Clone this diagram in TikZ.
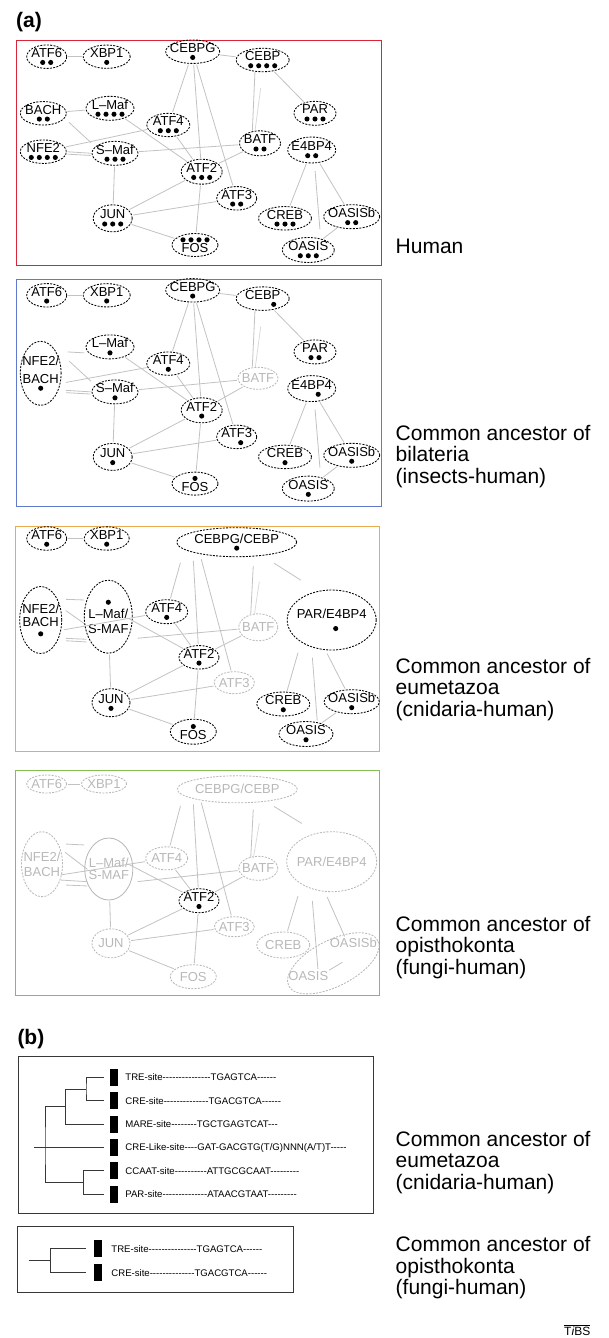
\documentclass[tikz,border=0pt]{standalone}
\usepackage{fontspec}
\newfontfamily\figsans{Liberation Sans}
\usetikzlibrary{shapes.geometric,positioning}
\definecolor{linkgray}{gray}{0.76}
\definecolor{offgray}{gray}{0.72}
\definecolor{humanred}{RGB}{216,38,56}
\definecolor{bilatblue}{RGB}{96,122,206}
\definecolor{eumetorange}{RGB}{234,170,78}
\definecolor{opistgreen}{RGB}{134,190,86}
\definecolor{treegray}{gray}{0.22}
% row of binding-site dots under a factor name
\newcommand\spots[1]{\tikz[baseline=0pt]{\foreach \dotidx in {1,...,#1}{\fill[black] (\dotidx*8pt,0pt) circle (2.55pt);}}}

\begin{document}
\begin{tikzpicture}[x=1pt,y=-1pt,font=\figsans,
  tf/.style={ellipse,draw,dash pattern=on 2pt off 1.3pt,line width=0.85pt,
    inner xsep=-4pt,inner ysep=0pt,align=center,font=\figsans\fontsize{13}{13.5}\selectfont},
  faded/.style={draw=offgray,text=offgray},
  wh/.style 2 args={minimum width=#1pt,minimum height=#2pt},
  reln/.style={draw=linkgray,line width=0.8pt,shorten <=1pt,shorten >=1pt},
  faintreln/.style={draw=linkgray!60,line width=0.8pt},
  panelbox/.style={line width=1pt},
  sidelabel/.style={anchor=north west,align=left,inner sep=0pt,font=\figsans\fontsize{21}{21.5}\selectfont},
  sitebar/.style={fill=black,minimum width=8pt,minimum height=17pt,inner sep=0pt},
  sitetext/.style={inner sep=0pt,text height=6.9pt,text depth=0pt,font=\figsans\fontsize{9.6}{11}\selectfont},
  treeline/.style={treegray,line width=0.8pt}]
\useasboundingbox (0,0) rectangle (608,1338);

\node[anchor=base west,inner sep=0pt,font=\figsans\bfseries\fontsize{21}{24}\selectfont] (parta) at (16,27.5) {(a)};

% human
\draw[panelbox,humanred] (16.5,40.7) rectangle (381.5,265.7);
\node[tf,wh={40}{22}] (hATF6) at (46.7,56.7) {ATF6\\[-8.5pt]\spots{2}};
\node[tf,wh={47}{22}] (hXBP1) at (106.7,56.7) {XBP1\\[-8.5pt]\spots{1}};
\node[tf,wh={54}{20}] (hCEBPG) at (192.7,51.7) {CEBPG\\[-8.5pt]\spots{1}};
\node[tf,wh={53}{21}] (hCEBP) at (262.7,60) {CEBP\\[-8.5pt]\spots{4}};
\node[tf,wh={46}{22}] (hBACH) at (43.3,113.3) {BACH\\[-8.5pt]\spots{2}};
\node[tf,wh={48}{20}] (hLMaf) at (110,108.3) {L–Maf\\[-8.5pt]\spots{4}};
\node[tf,wh={43}{20}] (hATF4) at (168.3,125) {ATF4\\[-8.5pt]\spots{3}};
\node[tf,wh={42}{24}] (hPAR) at (315,113.3) {PAR\\[-8.5pt]\spots{3}};
\node[tf,wh={41}{25}] (hBATF) at (260,143.3) {BATF\\[-8.5pt]\spots{2}};
\node[tf,wh={48}{26}] (hE4BP4) at (311.7,150) {E4BP4\\[-8.5pt]\spots{2}};
\node[tf,wh={46}{23}] (hNFE2) at (43.3,151.7) {NFE2\\[-8.5pt]\spots{4}};
\node[tf,wh={46}{21}] (hSMaf) at (115,153.3) {S–Maf\\[-8.5pt]\spots{3}};
\node[tf,wh={41}{25}] (hATF2) at (201.7,171.7) {ATF2\\[-8.5pt]\spots{3}};
\node[tf,wh={40}{20}] (hATF3) at (236.7,198.3) {ATF3\\[-8.5pt]\spots{2}};
\node[tf,wh={39}{27}] (hJUN) at (112.7,218.3) {JUN\\[-8.5pt]\spots{3}};
\node[tf,wh={53}{23}] (hCREB) at (285,218.3) {CREB\\[-8.5pt]\spots{3}};
\node[tf,wh={56}{20}] (hOASISb) at (351.7,216.7) {OASISb\\[-8.5pt]\spots{2}};
\node[tf,wh={46}{23}] (hFOS) at (195,245) {\spots{4}\\[-0.7pt]FOS};
\node[tf,wh={52}{25}] (hOASIS) at (308.3,250) {OASIS\\[-8.5pt]\spots{3}};
\path[reln] (hATF6) edge (hXBP1) (hCEBPG) edge (hCEBP)
  (hCEBPG) edge (hATF4) (hCEBPG) edge (hATF2) (hCEBPG) edge (hATF3)
  ([shift={(-7.7,11)}]hCEBP.center) edge ([shift={(-7.7,-11.6)}]hBATF.center)
  (hCEBP) edge (hPAR) (hBACH) edge (hLMaf)
  ([shift={(25,8.4)}]hBACH.center) edge ([shift={(-23.3,-10)}]hSMaf.center)
  (hLMaf) edge (hATF2) (hNFE2) edge (hATF4)
  (hNFE2.east) edge (hSMaf.west)
  ([yshift=-2.4pt]hNFE2.east) edge ([yshift=-2.2pt]hSMaf.west)
  (hSMaf) edge (hBATF) (hATF4) edge (hATF2) (hBATF) edge (hATF2)
  (hSMaf) edge (hJUN) (hATF2) edge (hJUN) (hATF2) edge (hFOS)
  (hJUN) edge (hATF3) (hJUN) edge (hFOS) (hE4BP4) edge (hCREB)
  ([shift={(3.3,20)}]hE4BP4.center) edge ([shift={(11.7,-20)}]hOASIS.center)
  (hE4BP4) edge (hOASISb) (hOASIS) edge (hOASISb);
\coordinate (hBfaint) at (260.7,88);
\draw[faintreln] (hBfaint) -- ([shift={(-5,-12.3)}]hBATF.center);
\node[sidelabel,anchor=base west] (lhuman) at (395.5,253.5) {Human};

% bilateria
\begin{scope}[yshift=-238.6pt]
\draw[panelbox,bilatblue] (16,40.7) rectangle (381,267.4);
\node[tf,wh={40}{22}] (bATF6) at (46.7,56.7) {ATF6\\[-8.5pt]\spots{1}};
\node[tf,wh={47}{22}] (bXBP1) at (106.7,56.7) {XBP1\\[-8.5pt]\spots{1}};
\node[tf,wh={54}{20}] (bCEBPG) at (192.7,51.7) {CEBPG\\[-8.5pt]\spots{1}};
\node[tf,wh={53}{21}] (bCEBP) at (262.7,60) {CEBP\\[-8.5pt]\hbox to 22pt{}\spots{1}};
\node[tf,wh={40}{64}] (bNB) at (40.7,134.7) {NFE2/\\[4.5pt]BACH\\[-8.5pt]\spots{1}};
\node[tf,wh={48}{20}] (bLMaf) at (110,108.3) {L–Maf\\[-8.5pt]\spots{1}};
\node[tf,wh={43}{20}] (bATF4) at (168.3,125) {ATF4\\[-8.5pt]\spots{1}};
\node[tf,wh={42}{24}] (bPAR) at (315,113.3) {PAR\\[-8.5pt]\spots{2}};
\node[tf,faded,wh={40}{22}] (bBATF) at (258,139.7) {BATF};
\node[tf,wh={48}{26}] (bE4BP4) at (311.7,150) {E4BP4\\[-8.5pt]\hbox to 13pt{}\spots{1}};
\node[tf,wh={46}{21}] (bSMaf) at (115,153.3) {S–Maf\\[-8.5pt]\spots{1}};
\node[tf,wh={41}{25}] (bATF2) at (201.7,171.7) {ATF2\\[-8.5pt]\spots{1}};
\node[tf,wh={40}{20}] (bATF3) at (236.7,198.3) {ATF3\\[-8.5pt]\hbox to 8pt{}\spots{1}};
\node[tf,wh={39}{27}] (bJUN) at (112.7,218.3) {JUN\\[-8.5pt]\spots{1}};
\node[tf,wh={53}{23}] (bCREB) at (285,218.3) {CREB\\[-8.5pt]\spots{1}};
\node[tf,wh={56}{20}] (bOASISb) at (351.7,216.7) {OASISb\\[-8.5pt]\spots{1}};
\node[tf,wh={46}{23}] (bFOS) at (195,245) {\spots{1}\\[-0.7pt]FOS};
\node[tf,wh={52}{25}] (bOASIS) at (308.3,250) {OASIS\\[-8.5pt]\spots{1}};
\path[reln] (bATF6) edge (bXBP1) (bCEBPG) edge (bCEBP)
  (bCEBPG) edge (bATF4) (bCEBPG) edge (bATF2) (bCEBPG) edge (bATF3)
  ([shift={(-7.7,11)}]bCEBP.center) edge ([shift={(-5.7,-11)}]bBATF.center)
  (bCEBP) edge (bPAR)
  ([shift={(26,-21.4)}]bNB.center) edge ([shift={(-25,6)}]bLMaf.center)
  ([shift={(27.6,-13)}]bNB.center) edge ([shift={(-23.3,-10)}]bSMaf.center)
  ([shift={(24.3,9.3)}]bNB.center) edge (bATF4)
  ([shift={(24.3,17)}]bNB.center) edge (bSMaf.west)
  ([shift={(24.3,19.3)}]bNB.center) edge ([yshift=-2.2pt]bSMaf.west)
  (bLMaf) edge (bATF2) (bSMaf) edge (bBATF) (bATF4) edge (bATF2)
  (bBATF) edge (bATF2) (bSMaf) edge (bJUN) (bATF2) edge (bJUN)
  (bATF2) edge (bFOS) (bJUN) edge (bATF3) (bJUN) edge (bFOS)
  (bE4BP4) edge (bCREB)
  ([shift={(3.3,20)}]bE4BP4.center) edge ([shift={(11.7,-20)}]bOASIS.center)
  (bE4BP4) edge (bOASISb) (bOASIS) edge (bOASISb);
\coordinate (bBfaint) at (260.7,88);
\draw[faintreln] (bBfaint) -- ([shift={(-2.7,-11)}]bBATF.center);
\end{scope}
\node[sidelabel] (lbilat) at (395.5,424.7) {Common ancestor of\\bilateria\\(insects-human)};

% eumetazoa
\begin{scope}[yshift=-486pt]
\draw[panelbox,eumetorange] (15.5,40.7) rectangle (379.5,265.7);
\node[tf,wh={40}{23}] (eATF6) at (46.7,52.5) {ATF6\\[-8.5pt]\spots{1}};
\node[tf,wh={45}{23}] (eXBP1) at (106.7,52.5) {XBP1\\[-8.5pt]\spots{1}};
\node[tf,wh={120}{29}] (eCC) at (236.7,56.2) {CEBPG/CEBP\\[-8.5pt]\spots{1}};
\node[tf,wh={42}{67}] (eNB) at (40.7,134) {NFE2/\\[-0.2pt]BACH\\[-6pt]\spots{1}};
\node[tf,wh={48}{73}] (eLS) at (108.3,130.7) {\spots{1}\\[3pt]L–Maf/\\[1.3pt]S-MAF};
\node[tf,wh={42}{24}] (eATF4) at (166.7,125.7) {ATF4\\[-8.5pt]\spots{1}};
\node[tf,faded,wh={39}{27}] (eBATF) at (258.3,141.3) {BATF};
\node[tf,wh={89}{60}] (ePE) at (331.7,134) {PAR/E4BP4\\[-3.3pt]\hbox to 8pt{}\spots{1}};
\node[tf,wh={40}{23}] (eATF2) at (199,171.3) {ATF2\\[-8.5pt]\spots{1}};
\node[tf,faded,wh={40}{22}] (eATF3) at (234.3,196.7) {ATF3};
\node[tf,wh={38}{28}] (eJUN) at (111,216.7) {JUN\\[-8.5pt]\spots{1}};
\node[tf,wh={53}{24}] (eCREB) at (283.3,218) {CREB\\[-8.5pt]\spots{1}};
\node[tf,wh={54}{22}] (eOASISb) at (351.7,215.7) {OASISb\\[-8.5pt]\spots{1}};
\node[tf,wh={46}{25}] (eFOS) at (193.3,245.7) {\spots{1}\\[-0.7pt]FOS};
\node[tf,wh={54}{25}] (eOASIS) at (306,248) {OASIS\\[-8.5pt]\spots{1}};
\path[reln] (eATF6) edge (eXBP1)
  ([shift={(-56,19.5)}]eCC.center) edge (eATF4)
  ([shift={(-43.4,17.8)}]eCC.center) edge (eATF2)
  ([shift={(-35.7,16.1)}]eCC.center) edge (eATF3)
  ([shift={(16.6,22.8)}]eCC.center) edge ([shift={(-7.6,-12.3)}]eBATF.center)
  ([shift={(36.6,20.5)}]eCC.center) edge ([shift={(-30,-39.3)}]ePE.center)
  ([shift={(24.3,-20.7)}]eNB.center) edge ([shift={(-23.3,-16.7)}]eLS.center)
  ([shift={(24.3,-10)}]eNB.center) edge ([shift={(-23.5,7.3)}]eLS.center)
  ([shift={(22,10)}]eNB.center) edge (eATF4)
  ([shift={(24.3,18.3)}]eNB.center) edge ([shift={(-21,22.6)}]eLS.center)
  ([shift={(24.3,20.7)}]eNB.center) edge ([shift={(-21,25.3)}]eLS.center)
  ([shift={(20,1.6)}]eLS.center) edge (eATF2)
  ([shift={(28.4,21.6)}]eLS.center) edge (eBATF)
  (eATF4) edge (eATF2) (eBATF) edge (eATF2) (eLS) edge (eJUN)
  (eATF2) edge (eJUN) (eATF2) edge (eFOS) (eJUN) edge (eATF3) (eJUN) edge (eFOS)
  ([shift={(-33.4,31.7)}]ePE.center) edge (eCREB)
  ([shift={(-19.4,36.7)}]ePE.center) edge ([shift={(11.3,-12.3)}]eOASIS.center)
  ([shift={(-5,32.7)}]ePE.center) edge (eOASISb)
  (eOASIS) edge (eOASISb);
\coordinate (eBfaint) at (259.3,95.7);
\draw[faintreln] (eBfaint) -- ([shift={(-4,-12.3)}]eBATF.center);
\end{scope}
\node[sidelabel] (leumet) at (395.5,657.7) {Common ancestor of\\eumetazoa\\(cnidaria-human)};

% opisthokonta
\begin{scope}[yshift=-729.3pt]
\draw[panelbox,opistgreen] (15.5,40.7) rectangle (379.5,266.4);
\node[tf,faded,wh={40}{18}] (gATF6) at (46.7,54.7) {ATF6};
\node[tf,faded,wh={45}{18}] (gXBP1) at (104,54.7) {XBP1};
\node[tf,faded,wh={120}{27}] (gCC) at (237.3,60) {CEBPG/CEBP};
\node[tf,faded,wh={41}{65}] (gNB) at (42,134.9) {NFE2/\\[0.9pt]BACH};
\node[tf,faded,solid,wh={48}{62}] (gLS) at (108.8,139.7) {L–Maf/\\[-1.8pt]S-MAF};
\node[tf,faded,wh={42}{23}] (gATF4) at (166.7,129) {ATF4};
\node[tf,faded,wh={39}{24}] (gBATF) at (258.3,139) {BATF};
\node[tf,faded,wh={90}{60}] (gPE) at (331.7,132.4) {PAR/E4BP4};
\node[tf,wh={40}{24}] (gATF2) at (199,171.4) {ATF2\\[-8.5pt]\spots{1}};
\node[tf,faded,wh={40}{20}] (gATF3) at (234.3,197.4) {ATF3};
\node[tf,faded,wh={38}{29}] (gJUN) at (111,214) {JUN};
\node[tf,faded,wh={53}{26}] (gCREB) at (283.3,215.7) {CREB};
\node[tf,faded,wh={46}{24}] (gFOS) at (193.3,247.4) {FOS};
\node[tf,faded,wh={100}{46},rotate=27] (gOAS) at (333.3,234) {};
\node[inner sep=0pt,text=offgray,font=\figsans\fontsize{13}{13.5}\selectfont] (gOASISb) at (353.3,214) {OASISb};
\node[inner sep=0pt,text=offgray,font=\figsans\fontsize{13}{13.5}\selectfont] (gOASIS) at (308.3,246.7) {OASIS};
\path[reln] (gATF6) edge (gXBP1)
  ([shift={(-56.6,15.7)}]gCC.center) edge (gATF4)
  ([shift={(-44,14)}]gCC.center) edge (gATF2)
  ([shift={(-36.3,12.3)}]gCC.center) edge (gATF3)
  ([shift={(16,19)}]gCC.center) edge ([shift={(-7.6,-10)}]gBATF.center)
  ([shift={(36,16.7)}]gCC.center) edge ([shift={(-29,-37.7)}]gPE.center)
  ([shift={(23,-20.2)}]gNB.center) edge ([shift={(-23.8,-24)}]gLS.center)
  ([shift={(22.3,-12.5)}]gNB.center) edge ([shift={(-20.5,1)}]gLS.center)
  ([shift={(18,10.8)}]gNB.center) edge (gATF4)
  ([shift={(18,15.8)}]gNB.center) edge ([shift={(-20.5,12.7)}]gLS.center)
  ([shift={(23,20.8)}]gNB.center) edge ([shift={(-20.5,17)}]gLS.center)
  ([shift={(17.9,-5.7)}]gLS.center) edge (gATF2)
  ([shift={(27.9,12.7)}]gLS.center) edge (gBATF)
  (gATF4) edge (gATF2) (gBATF) edge (gATF2) (gLS) edge (gJUN)
  (gATF2) edge (gJUN) (gATF2) edge (gFOS) (gJUN) edge (gATF3) (gJUN) edge (gFOS)
  ([shift={(-33.4,33.3)}]gPE.center) edge (gCREB)
  ([shift={(-19.4,38.3)}]gPE.center) edge ([shift={(9.7,-6)}]gOASIS.center)
  ([shift={(-5,34.3)}]gPE.center) edge ([shift={(-8.3,-6)}]gOASISb.center)
  ([shift={(20,-5.3)}]gOASIS.center) edge ([shift={(-10,18.4)}]gOASISb.center);
\coordinate (gBfaint) at (259.3,94);
\draw[faintreln] (gBfaint) -- ([shift={(-5,-10)}]gBATF.center);
\end{scope}
\node[sidelabel] (lopist) at (395.5,915.7) {Common ancestor of\\opisthokonta\\(fungi-human)};

% (b) sites
\node[anchor=base west,inner sep=0pt,font=\figsans\bfseries\fontsize{21}{24}\selectfont] (partb) at (17.3,1044) {(b)};
\draw[treeline,line width=1pt] (18.3,1056.7) rectangle (373.3,1213.3);
\node[sitebar] (sTRE) at (114,1077.3) {};
\node[sitebar] (sCRE) at (114,1100.6) {};
\node[sitebar] (sMARE) at (114,1124) {};
\node[sitebar] (sCRL) at (114,1147.3) {};
\node[sitebar] (sCCAAT) at (114,1170.6) {};
\node[sitebar] (sPAR) at (114,1194) {};
\node[sitetext,right=7pt of sTRE] (sTREtxt) {TRE-site---------------TGAGTCA------};
\node[sitetext,right=7pt of sCRE] (sCREtxt) {CRE-site--------------TGACGTCA------};
\node[sitetext,right=7pt of sMARE] (sMAREtxt) {MARE-site--------TGCTGAGTCAT---};
\node[sitetext,right=7pt of sCRL] (sCRLtxt) {CRE-Like-site----GAT-GACGTG(T/G)NNN(A/T)T-----};
\node[sitetext,right=7pt of sCCAAT] (sCCAATtxt) {CCAAT-site----------ATTGCGCAAT---------};
\node[sitetext,right=7pt of sPAR] (sPARtxt) {PAR-site--------------ATAACGTAAT---------};
\coordinate (k1) at (86,1089);
\coordinate (k2) at (65.7,1106.7);
\coordinate (k3) at (45,1147.3);
\coordinate (k4) at (83.3,1182.3);
\coordinate (kroot) at (34,1147.3);
\draw[treeline] ([xshift=-6pt]sTRE.west) -| (k1) |- ([xshift=-6pt]sCRE.west);
\draw[treeline] (k1) -| (k2) |- ([xshift=-6pt]sMARE.west);
\draw[treeline] (k2) -| (k3) |- (k4);
\draw[treeline] ([xshift=-6pt]sCCAAT.west) -| (k4) |- ([xshift=-6pt]sPAR.west);
\draw[treeline] (kroot) -- ([xshift=-6pt]sCRL.west);
\node[sidelabel] (leumetb) at (395.5,1130.7) {Common ancestor of\\eumetazoa\\(cnidaria-human)};

\draw[treeline,line width=1pt] (17.1,1226) rectangle (293.6,1292.7);
\node[sitebar] (tTRE) at (98,1248.7) {};
\node[sitebar] (tCRE) at (98,1272.8) {};
\node[sitetext,right=9pt of tTRE] (tTREtxt) {TRE-site---------------TGAGTCA------};
\node[sitetext,right=9pt of tCRE] (tCREtxt) {CRE-site--------------TGACGTCA------};
\coordinate (m1) at (50.4,1260.7);
\coordinate (mroot) at (28.7,1260.7);
\draw[treeline] ([xshift=-8pt]tTRE.west) -| (m1) |- ([xshift=-8pt]tCRE.west);
\draw[treeline] (mroot) -- (m1);
\node[sidelabel] (lopistb) at (395.5,1236.2) {Common ancestor of\\opisthokonta\\(fungi-human)};

\node[anchor=base west,inner sep=0pt,font=\figsans\fontsize{12}{13}\selectfont] (tibs) at (564,1335.5) {$\overline{\hbox{T\textit{i}BS}}$};
\end{tikzpicture}
\end{document}
